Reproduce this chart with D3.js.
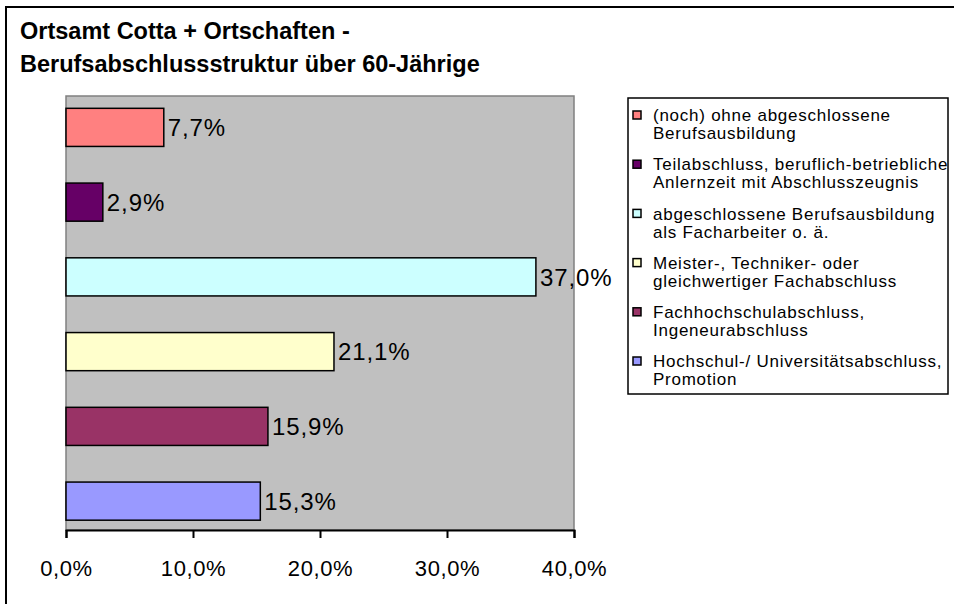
<!DOCTYPE html>
<html><head><meta charset="utf-8">
<script src="https://cdn.jsdelivr.net/npm/d3@7"></script>
<style>body{margin:0;background:#fff}svg{display:block}</style>
</head><body>
<script>
const titleLines = ["Ortsamt Cotta + Ortschaften -", "Berufsabschlussstruktur über 60-Jährige"];
const categories = [
  ["(noch) ohne abgeschlossene", "Berufsausbildung"],
  ["Teilabschluss, beruflich-betriebliche", "Anlernzeit mit Abschlusszeugnis"],
  ["abgeschlossene Berufsausbildung", "als Facharbeiter o. ä."],
  ["Meister-, Techniker- oder", "gleichwertiger Fachabschluss"],
  ["Fachhochschulabschluss,", "Ingeneurabschluss"],
  ["Hochschul-/ Universitätsabschluss,", "Promotion"]
];
const values = [7.7, 2.9, 37.0, 21.1, 15.9, 15.3];
const colors = ["#FF8080", "#660066", "#CCFFFF", "#FFFFCC", "#993366", "#9999FF"];
const xTicks = [0, 10, 20, 30, 40];

const W = 954, H = 604;
const svg = d3.select("body").append("svg").attr("width", W).attr("height", H);
const font = "Liberation Sans, Arial, sans-serif";
const fmt = v => d3.format(".1f")(v).replace(".", ",") + "%";

// outer frame
svg.append("rect").attr("x", 6).attr("y", 7).attr("width", 1000).attr("height", 1000)
  .attr("fill", "none").attr("stroke", "#000").attr("stroke-width", 2);

// title
svg.append("g").selectAll("text").data(titleLines).join("text")
  .attr("x", 20).attr("y", (d, i) => 39 + i * 33)
  .attr("font-family", font).attr("font-weight", "bold").attr("font-size", 23.5)
  .attr("fill", "#000").text(d => d);

const plot = {left: 66, right: 574, top: 96, bottom: 530};
const x = d3.scaleLinear().domain([0, 40]).range([plot.left, plot.right]);
const y = d3.scaleBand().domain(d3.range(values.length)).range([90, 538.5])
  .paddingInner(0.49).paddingOuter(0.245);

svg.append("rect").attr("x", plot.left).attr("y", plot.top)
  .attr("width", plot.right - plot.left).attr("height", plot.bottom - plot.top)
  .attr("fill", "#C0C0C0").attr("stroke", "#808080").attr("stroke-width", 1.5);

svg.append("g").selectAll("rect").data(values).join("rect")
  .attr("x", x(0)).attr("y", (d, i) => y(i))
  .attr("width", d => x(d) - x(0)).attr("height", y.bandwidth())
  .attr("fill", (d, i) => colors[i]).attr("stroke", "#000").attr("stroke-width", 1.5);

svg.append("g").selectAll("text").data(values).join("text")
  .attr("x", d => x(d) + 4).attr("y", (d, i) => y(i) + y.bandwidth() / 2)
  .attr("dy", "0.36em")
  .attr("font-family", font).attr("font-size", 24).attr("letter-spacing", 0.9)
  .attr("fill", "#000").text(d => fmt(d));

// x axis
const ax = svg.append("g").attr("transform", `translate(0,${plot.bottom})`)
  .call(d3.axisBottom(x).tickValues(xTicks).tickSize(8).tickPadding(22).tickFormat(d => fmt(d)));
ax.select(".domain").attr("stroke", "#000").attr("stroke-width", 2);
ax.selectAll(".tick line").attr("stroke", "#000").attr("stroke-width", 2);
ax.selectAll(".tick text").attr("font-family", font).attr("font-size", 22)
  .attr("letter-spacing", 0.6).attr("fill", "#000");

// legend
const lg = svg.append("g");
lg.append("rect").attr("x", 628).attr("y", 98).attr("width", 320).attr("height", 296)
  .attr("fill", "#fff").attr("stroke", "#000").attr("stroke-width", 1.5);
const item = lg.selectAll("g.item").data(categories).join("g").attr("class", "item")
  .attr("transform", (d, i) => `translate(0,${115 + i * 49.2})`);
item.append("rect").attr("x", 633).attr("y", -4).attr("width", 8).attr("height", 8)
  .attr("fill", (d, i) => colors[i]).attr("stroke", "#000").attr("stroke-width", 1.5);
item.selectAll("text").data(d => d).join("text")
  .attr("x", 653).attr("y", (d, i) => i * 18).attr("dy", "0.36em")
  .attr("font-family", font).attr("font-size", 17).attr("letter-spacing", 0.75)
  .attr("fill", "#000").text(d => d);
</script>
</body></html>
